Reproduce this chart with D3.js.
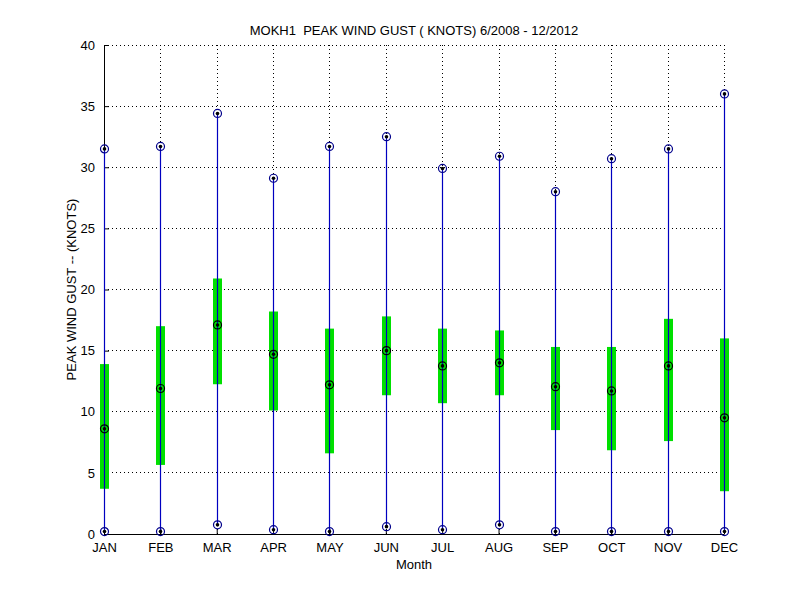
<!DOCTYPE html>
<html>
<head>
<meta charset="utf-8">
<script src="https://cdn.jsdelivr.net/npm/d3@7"></script>
<style>
  body { margin: 0; background: #fff; }
  text { font-family: "Liberation Sans", Arial, sans-serif; }
</style>
</head>
<body>
<div id="chart"></div>
<script>
// Monthly peak wind gust stats (knots)
const months = ['JAN', 'FEB', 'MAR', 'APR', 'MAY', 'JUN', 'JUL', 'AUG', 'SEP', 'OCT', 'NOV', 'DEC'];
const maxVals = [31.5, 31.7, 34.4, 29.1, 31.7, 32.5, 29.9, 30.9, 28.0, 30.7, 31.5, 36.0];
const q3Vals = [13.9, 17.0, 20.9, 18.2, 16.8, 17.8, 16.8, 16.65, 15.3, 15.3, 17.6, 16.0];
const medVals = [8.6, 11.9, 17.1, 14.7, 12.2, 15.0, 13.75, 14.0, 12.05, 11.7, 13.75, 9.5];
const q1Vals = [3.7, 5.65, 12.25, 10.1, 6.6, 11.35, 10.7, 11.35, 8.5, 6.85, 7.6, 3.5];
const minVals = [0.2, 0.2, 0.75, 0.35, 0.2, 0.6, 0.35, 0.75, 0.2, 0.2, 0.2, 0.2];
const yTicks = [0, 5, 10, 15, 20, 25, 30, 35, 40];

const data = months.map((m, i) => ({
  month: m, max: maxVals[i], q3: q3Vals[i], med: medVals[i], q1: q1Vals[i], min: minVals[i]
}));

const width = 800, height = 600;
const margin = { top: 45, right: 76, bottom: 66, left: 104 };
const chartWidth = width - margin.left - margin.right;
const chartHeight = height - margin.top - margin.bottom;

const svg = d3.select('#chart').append('svg')
  .attr('width', width)
  .attr('height', height);

const chart = svg.append('g')
  .attr('transform', `translate(${margin.left}, ${margin.top})`);

const xScale = d3.scalePoint()
  .domain(months)
  .range([0, chartWidth]);

// pixel-snapped x so grid, whisker and markers line up
const xPos = m => Math.round(xScale(m)) + 0.5;

const yScale = d3.scaleLinear()
  .domain([0, 40])
  .range([chartHeight, 0]);

// Dotted grid
chart.append('g')
  .selectAll('line')
  .data(yTicks.filter(t => t > 0))
  .enter().append('line')
  .attr('x1', 0).attr('x2', chartWidth)
  .attr('y1', d => yScale(d)).attr('y2', d => yScale(d))
  .attr('stroke', '#000').attr('stroke-width', 1)
  .attr('stroke-dasharray', '1,3')
  .attr('shape-rendering', 'crispEdges');

chart.append('g')
  .selectAll('line')
  .data(months.slice(1))
  .enter().append('line')
  .attr('x1', d => xPos(d)).attr('x2', d => xPos(d))
  .attr('y1', 0).attr('y2', chartHeight)
  .attr('stroke', '#000').attr('stroke-width', 1)
  .attr('stroke-dasharray', '1,3')
  .attr('shape-rendering', 'crispEdges');

// Axes (MATLAB style: inward ticks)
const xAxis = d3.axisBottom(xScale).tickSizeInner(-5).tickSizeOuter(0).tickPadding(10);
const yAxis = d3.axisLeft(yScale).tickValues(yTicks).tickSizeInner(-5).tickSizeOuter(0).tickPadding(9);

const gx = chart.append('g')
  .attr('transform', `translate(0, ${chartHeight})`)
  .call(xAxis);
const gy = chart.append('g').call(yAxis);

[gx, gy].forEach(g => {
  g.select('.domain').attr('stroke', '#000');
  g.selectAll('.tick line').attr('stroke', '#000');
  g.selectAll('.tick text')
    .style('font-size', '13px')
    .style('font-family', '"Liberation Sans", Arial, sans-serif')
    .attr('fill', '#000');
});
gx.selectAll('.tick text').attr('dy', '0.6em');

// Boxes
const boxWidth = 9;
chart.append('g')
  .selectAll('rect')
  .data(data)
  .enter().append('rect')
  .attr('x', d => xPos(d.month) - boxWidth / 2)
  .attr('width', boxWidth)
  .attr('y', d => yScale(d.q3))
  .attr('height', d => yScale(d.q1) - yScale(d.q3))
  .attr('fill', '#00e000');

// Whiskers
chart.append('g')
  .selectAll('line')
  .data(data)
  .enter().append('line')
  .attr('x1', d => xPos(d.month)).attr('x2', d => xPos(d.month))
  .attr('y1', d => yScale(d.min)).attr('y2', d => yScale(d.max))
  .attr('stroke', '#0000c0').attr('stroke-width', 1.2);

// Markers: circle with dot
function addMarkers(key, circleColor) {
  const g = chart.append('g');
  g.selectAll('circle.ring')
    .data(data)
    .enter().append('circle')
    .attr('class', 'ring')
    .attr('cx', d => xPos(d.month))
    .attr('cy', d => yScale(d[key]))
    .attr('r', 4)
    .attr('fill', 'none')
    .attr('stroke', circleColor)
    .attr('stroke-width', 1.2);
  g.selectAll('circle.dot')
    .data(data)
    .enter().append('circle')
    .attr('class', 'dot')
    .attr('cx', d => xPos(d.month))
    .attr('cy', d => yScale(d[key]))
    .attr('r', 1.8)
    .attr('fill', '#000');
}
addMarkers('max', '#00008b');
addMarkers('min', '#00008b');
addMarkers('med', '#000');

// Title
svg.append('text')
  .attr('x', margin.left + chartWidth / 2)
  .attr('y', 35)
  .attr('text-anchor', 'middle')
  .style('font-size', '13px')
  .attr('fill', '#000')
  .attr('xml:space', 'preserve')
  .text('MOKH1  PEAK WIND GUST ( KNOTS) 6/2008 - 12/2012');

// X axis label
svg.append('text')
  .attr('x', margin.left + chartWidth / 2)
  .attr('y', 569)
  .attr('text-anchor', 'middle')
  .style('font-size', '13px')
  .attr('fill', '#000')
  .text('Month');

// Y axis label
svg.append('text')
  .attr('transform', `translate(76, ${margin.top + chartHeight / 2}) rotate(-90)`)
  .attr('text-anchor', 'middle')
  .style('font-size', '13px')
  .attr('fill', '#000')
  .text('PEAK WIND GUST -- (KNOTS)');
</script>
</body>
</html>
